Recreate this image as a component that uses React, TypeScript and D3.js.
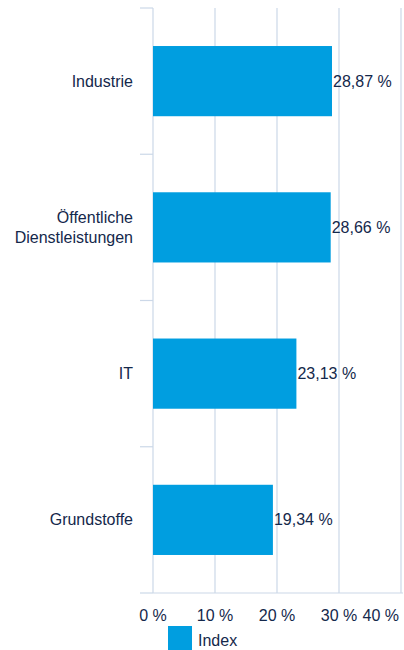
import React from "react";
import * as d3 from "d3";

const categories = ["Industrie", "Öffentliche\nDienstleistungen", "IT", "Grundstoffe"];
const values = [28.87, 28.66, 23.13, 19.34];
const ticks = [0, 10, 20, 30, 40];
const seriesName = "Index";

const W = 404;
const H = 650;
const left = 153;
const right = 401;
const top = 8;
const bottom = 593;
const textColor = "#14284b";
const gridColor = "#ccd8e8";
const barColor = "#009ee0";
const font = "'Liberation Sans', Arial, sans-serif";

export default function App() {
  const x = d3.scaleLinear().domain([0, 40]).range([left, right]);
  const y = d3.scaleBand<string>().domain(categories).range([top, bottom]).paddingInner(0.52).paddingOuter(0.26);
  const band = (bottom - top) / categories.length;
  const fmt = (v: number) => v.toFixed(2).replace(".", ",") + " %";
  return (
    <svg width={W} height={H} style={{ position: "absolute", left: 0, top: 0, fontFamily: font }}>
      {ticks.map((t) => (
        <line key={t} x1={x(t)} x2={x(t)} y1={top} y2={bottom} stroke={gridColor} strokeWidth={1.2} />
      ))}
      <line x1={left} x2={right + 2} y1={bottom} y2={bottom} stroke={gridColor} strokeWidth={1.2} />
      {d3.range(categories.length + 1).map((i) => (
        <line key={i} x1={left - 13} x2={left} y1={top + i * band} y2={top + i * band} stroke={gridColor} strokeWidth={1.2} />
      ))}
      {categories.map((c, i) => {
        const yy = y(c)!;
        const h = y.bandwidth();
        const lines = c.split("\n");
        const cy = yy + h / 2;
        return (
          <g key={c}>
            <rect x={x(0)} y={yy} width={x(values[i]) - x(0)} height={h} fill={barColor} />
            <text x={x(values[i]) + 1} y={cy} dy="0.35em" fontSize={16} fill={textColor}>
              {fmt(values[i])}
            </text>
            <text x={133} y={cy} fontSize={16} fill={textColor} textAnchor="end">
              {lines.map((l, j) => (
                <tspan key={j} x={133} dy={j === 0 ? `${0.35 - (lines.length - 1) * 0.6}em` : "1.2em"}>
                  {l}
                </tspan>
              ))}
            </text>
          </g>
        );
      })}
      {ticks.map((t, i) => (
        <text
          key={t}
          x={i === ticks.length - 1 ? 399 : x(t)}
          y={621}
          fontSize={16}
          fill={textColor}
          textAnchor={i === ticks.length - 1 ? "end" : "middle"}
        >
          {t} %
        </text>
      ))}
      <rect x={168} y={626} width={24} height={24} fill={barColor} />
      <text x={198} y={646} fontSize={16} fill={textColor}>
        {seriesName}
      </text>
    </svg>
  );
}
